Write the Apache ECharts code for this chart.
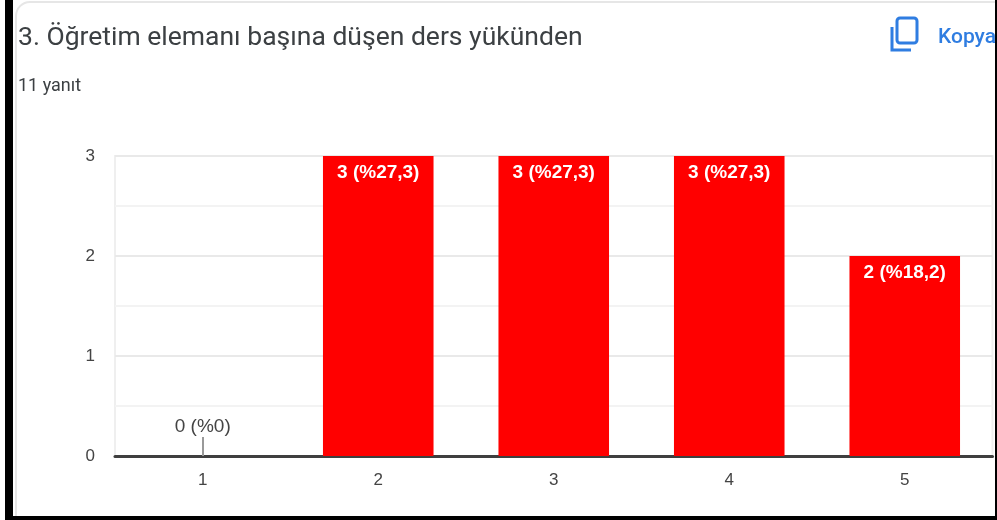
<!DOCTYPE html>
<html>
<head>
<meta charset="utf-8">
<title>Ders yükü</title>
<script src="https://cdn.jsdelivr.net/npm/echarts@6/dist/echarts.min.js"></script>
<style>
  html, body { margin: 0; padding: 0; background: #fff; }
  #chart { width: 997px; height: 520px; }
</style>
</head>
<body>
<div id="chart"></div>
<script>
const categories = ['1', '2', '3', '4', '5']
const counts = [0, 3, 3, 3, 2]
const percents = ['%0', '%27,3', '%27,3', '%27,3', '%18,2']
const yTicks = [0, 1, 2, 3]
const titleText = '3. Öğretim elemanı başına düşen ders yükünden'
const subText = '11 yanıt'
const copyText = 'Kopya'

const BLUE = '#2f7de1'
const LABEL_FONT = 'Liberation Sans'
const myChart = echarts.init(document.getElementById('chart'))

const option = {
  animation: false,
  backgroundColor: '#fff',
  textStyle: { fontFamily: 'Roboto' },
  title: [
    { text: titleText, left: 13, top: 20, textStyle: { fontSize: 26.5, fontWeight: 400, color: '#3c4043', fontFamily: 'Roboto' } },
    { text: subText, left: 13, top: 72, textStyle: { fontSize: 18, fontWeight: 400, color: '#3c4043', fontFamily: 'Roboto' } },
    { text: copyText, left: 933, top: 22, textStyle: { fontSize: 21, fontWeight: 500, color: BLUE, fontFamily: 'Roboto' } },
  ],
  grid: { show: true, borderColor: '#efefef', borderWidth: 2, left: 115, right: 4.5, top: 156, bottom: 64 },
  xAxis: {
    type: 'category',
    data: categories,
    axisTick: { show: false },
    axisLine: { lineStyle: { color: '#3f3f3f', width: 3 } },
    axisLabel: { color: '#444', fontSize: 17, fontFamily: LABEL_FONT, margin: 16 },
  },
  yAxis: {
    type: 'value',
    min: 0,
    max: 3,
    interval: 1,
    axisLine: { show: false },
    axisTick: { show: false },
    axisLabel: {
      color: '#444',
      fontSize: 17,
      fontFamily: LABEL_FONT,
      margin: 20,
      padding: [6, 0, 0, 0],
      formatter: (v) => (yTicks.includes(v) ? String(v) : ''),
    },
    splitLine: { lineStyle: { color: '#e9e9e9', width: 2 } },
    minorTick: { show: false, splitNumber: 2 },
    minorSplitLine: { show: true, lineStyle: { color: '#f3f3f3', width: 2 } },
  },
  series: [
    {
      type: 'bar',
      data: counts.map((v) => ({
        value: v,
        label: v === 0
          ? { position: 'top', distance: 20, color: '#444', fontWeight: 400 }
          : {},
      })),
      barCategoryGap: '37%',
      itemStyle: { color: '#ff0000' },
      label: {
        show: true,
        position: 'insideTop',
        distance: 7,
        color: '#fff',
        fontSize: 19,
        fontWeight: 700,
        fontFamily: LABEL_FONT,
        formatter: ({ dataIndex }) => `${counts[dataIndex]} (${percents[dataIndex]})`,
      },
      markLine: {
        silent: true,
        symbol: 'none',
        label: { show: false },
        lineStyle: { color: '#999', width: 2, type: 'solid' },
        data: [[{ xAxis: '1', yAxis: 0 }, { xAxis: '1', yAxis: 0.19 }]],
      },
    },
  ],
  graphic: [
    // kopyala ikonu
    { type: 'rect', z: 50, shape: { x: 897, y: 18, width: 20, height: 25, r: 3 }, style: { fill: 'none', stroke: BLUE, lineWidth: 3 } },
    { type: 'polyline', z: 50, shape: { points: [[892, 27], [892, 50], [911, 50]] }, style: { fill: 'none', stroke: BLUE, lineWidth: 3 } },
    // kart kenarı
    { type: 'rect', z: 40, shape: { x: 16, y: 2, width: 1000, height: 600, r: 14 }, style: { fill: 'none', stroke: '#e6e6e6', lineWidth: 2 } },
    // siyah çerçeve
    { type: 'rect', z: 60, shape: { x: 5, y: 0, width: 8, height: 520 }, style: { fill: '#000' } },
    { type: 'rect', z: 60, shape: { x: 5, y: 516, width: 992, height: 4 }, style: { fill: '#000' } },
    { type: 'rect', z: 60, shape: { x: 995, y: 0, width: 2, height: 520 }, style: { fill: '#000' } },
  ],
}

myChart.setOption(option)
</script>
</body>
</html>
